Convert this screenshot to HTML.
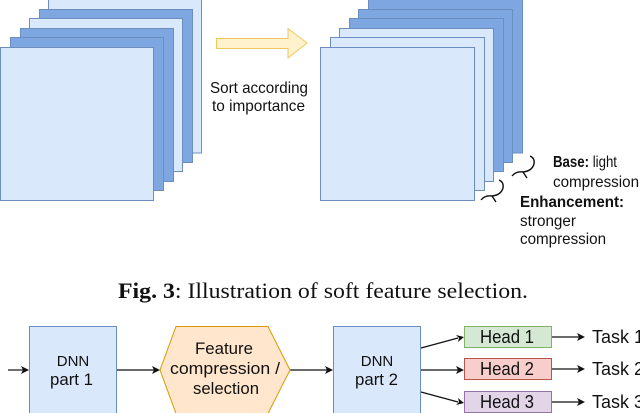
<!DOCTYPE html>
<html><head><meta charset="utf-8"><style>
html,body{margin:0;padding:0;background:#fff;}
svg{display:block;}
text{font-family:"Liberation Sans",sans-serif;fill:#111;}
</style></head><body>
<svg width="640" height="413" viewBox="0 0 640 413" xmlns="http://www.w3.org/2000/svg">
<g stroke="#6c8ebf" stroke-width="1">
<rect x="48.5" y="-10" width="153" height="163" fill="#dae8fc"/>
<rect x="39.5" y="9.5" width="153" height="153" fill="#7ea6e0"/>
<rect x="29.5" y="18.5" width="153" height="153" fill="#dae8fc"/>
<rect x="20.5" y="28.5" width="153" height="153" fill="#7ea6e0"/>
<rect x="10.5" y="37.5" width="153" height="153" fill="#7ea6e0"/>
<rect x="0.5" y="47.5" width="153" height="153" fill="#dae8fc"/>

<rect x="368.5" y="-10" width="154" height="163" fill="#7ea6e0"/>
<rect x="358.5" y="9.5" width="154" height="153" fill="#7ea6e0"/>
<rect x="349.5" y="18.5" width="154" height="153" fill="#7ea6e0"/>
<rect x="339.5" y="28.5" width="154" height="153" fill="#dae8fc"/>
<rect x="330.5" y="37.5" width="154" height="153" fill="#dae8fc"/>
<rect x="320.5" y="47.5" width="154" height="153" fill="#dae8fc"/>
</g>
<path d="M216.5 38.5 H288 V28.5 L307 43 L288 58 V48.5 H216.5 Z" fill="#fff2cc" stroke="#f0c75e" stroke-width="1"/>
<text x="210" y="93" font-size="16" textLength="98" lengthAdjust="spacingAndGlyphs">Sort according</text>
<text x="212" y="111" font-size="16" textLength="93" lengthAdjust="spacingAndGlyphs">to importance</text>

<path d="M512 176 Q516 171 523 172 L527 178 M523 172 Q532 171 534 164 Q535 158 530 156" fill="none" stroke="#111" stroke-width="1.4"/>
<path d="M481 200 Q485 195 492 196 L496 202 M492 196 Q501 195 503 188 Q504 182 499 180" fill="none" stroke="#111" stroke-width="1.4"/>
<text x="553" y="167" font-size="16" textLength="64" lengthAdjust="spacingAndGlyphs"><tspan font-weight="bold">Base:</tspan> light</text>
<text x="553" y="187" font-size="16" textLength="86" lengthAdjust="spacingAndGlyphs">compression</text>
<text x="520" y="207" font-size="16" font-weight="bold" textLength="104" lengthAdjust="spacingAndGlyphs">Enhancement:</text>
<text x="520" y="226" font-size="16" textLength="56" lengthAdjust="spacingAndGlyphs">stronger</text>
<text x="520" y="244" font-size="16" textLength="86" lengthAdjust="spacingAndGlyphs">compression</text>

<text x="118" y="298" font-size="22" textLength="410" lengthAdjust="spacingAndGlyphs" style="font-family:'Liberation Serif',serif"><tspan font-weight="bold">Fig. 3</tspan>: Illustration of soft feature selection.</text>

<g stroke="#111" stroke-width="1.2" fill="none">
<line x1="8" y1="370" x2="24" y2="370"/>
<line x1="117" y1="370" x2="155" y2="370"/>
<line x1="290" y1="370" x2="328" y2="370"/>
<line x1="421" y1="348" x2="458" y2="338"/>
<line x1="421" y1="370" x2="458" y2="370"/>
<line x1="421" y1="392" x2="458" y2="402"/>
<line x1="552" y1="337" x2="580" y2="337"/>
<line x1="552" y1="369" x2="580" y2="369"/>
<line x1="552" y1="402" x2="580" y2="402"/>
</g>
<g fill="#111">
<path d="M29 370 l-8 -4 l2 4 l-2 4z"/>
<path d="M160 370 l-8 -4 l2 4 l-2 4z"/>
<path d="M333 370 l-8 -4 l2 4 l-2 4z"/>
<path d="M464 337 l-8 -2 l3 3 l-1 4z"/>
<path d="M464 370 l-8 -4 l2 4 l-2 4z"/>
<path d="M464 403 l-6 -5 l1 4 l-3 3z"/>
<path d="M585 337 l-8 -4 l2 4 l-2 4z"/>
<path d="M585 369 l-8 -4 l2 4 l-2 4z"/>
<path d="M585 402 l-8 -4 l2 4 l-2 4z"/>
</g>
<rect x="29.5" y="326.5" width="87" height="100" fill="#dae8fc" stroke="#6c8ebf"/>
<rect x="333.5" y="326.5" width="87" height="100" fill="#dae8fc" stroke="#6c8ebf"/>
<path d="M176 326.5 H268 L290 370 L268 413.5 H176 L160 370 Z" fill="#ffe6cc" stroke="#d79b00"/>
<rect x="464.5" y="326.5" width="87" height="21" fill="#d5e8d4" stroke="#82b366"/>
<rect x="464.5" y="358.5" width="87" height="21" fill="#f8cecc" stroke="#b85450"/>
<rect x="464.5" y="391.5" width="87" height="21" fill="#e1d5e7" stroke="#9673a6"/>
<text x="73" y="366" font-size="15" text-anchor="middle">DNN</text>
<text x="50" y="385" font-size="17" textLength="43" lengthAdjust="spacingAndGlyphs">part 1</text>
<text x="377" y="366" font-size="15" text-anchor="middle">DNN</text>
<text x="355" y="385" font-size="17" textLength="43" lengthAdjust="spacingAndGlyphs">part 2</text>
<text x="195" y="354" font-size="17" textLength="58" lengthAdjust="spacingAndGlyphs">Feature</text>
<text x="170" y="374" font-size="17" textLength="110" lengthAdjust="spacingAndGlyphs">compression /</text>
<text x="193" y="394" font-size="17" textLength="66" lengthAdjust="spacingAndGlyphs">selection</text>
<text x="480" y="343" font-size="18" textLength="54" lengthAdjust="spacingAndGlyphs">Head 1</text>
<text x="480" y="375" font-size="18" textLength="54" lengthAdjust="spacingAndGlyphs">Head 2</text>
<text x="480" y="408" font-size="18" textLength="54" lengthAdjust="spacingAndGlyphs">Head 3</text>
<text x="592" y="343" font-size="18" textLength="52" lengthAdjust="spacingAndGlyphs">Task 1</text>
<text x="592" y="375" font-size="18" textLength="52" lengthAdjust="spacingAndGlyphs">Task 2</text>
<text x="592" y="408" font-size="18" textLength="52" lengthAdjust="spacingAndGlyphs">Task 3</text>
</svg>
</body></html>
